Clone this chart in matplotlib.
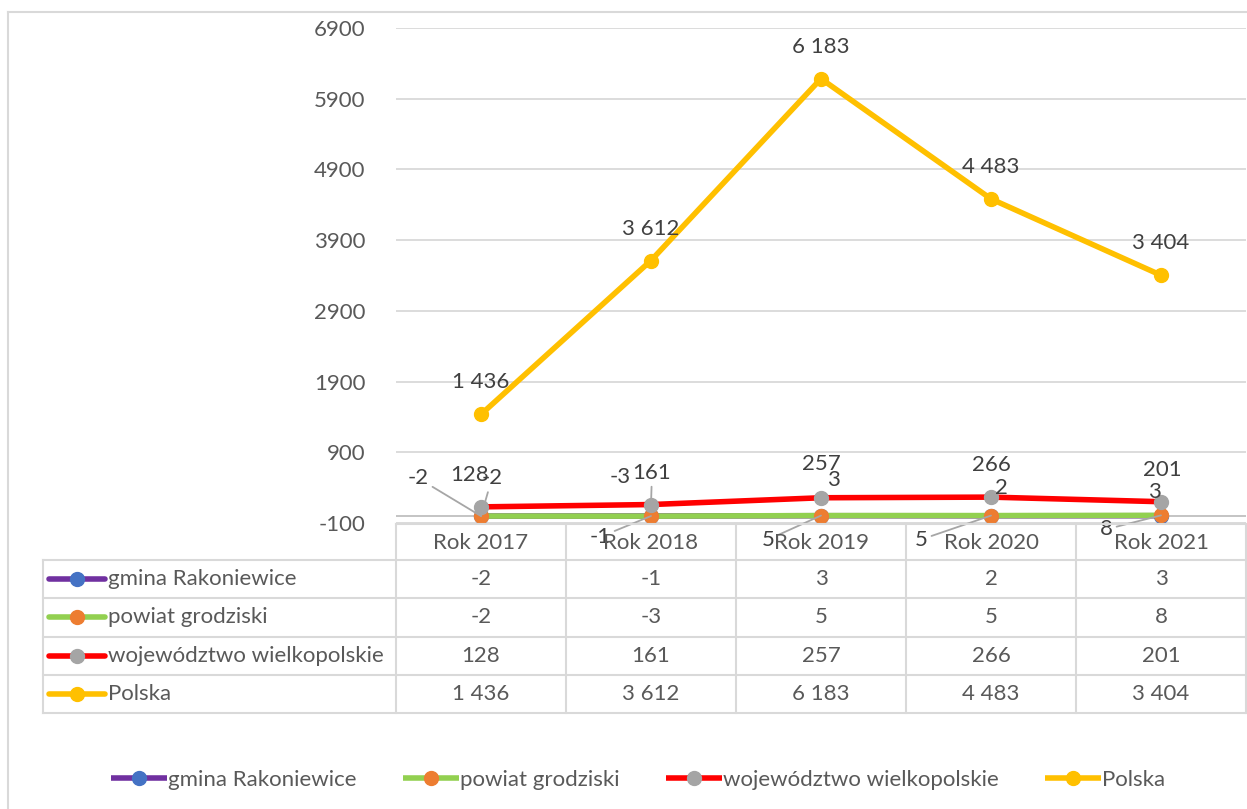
import numpy as np
import matplotlib.pyplot as plt
from matplotlib.lines import Line2D

plt.rcParams['font.family'] = ['Lato', 'DejaVu Sans']

# Dane
kategorie = ['Rok 2017', 'Rok 2018', 'Rok 2019', 'Rok 2020', 'Rok 2021']
nazwy = ['gmina Rakoniewice', 'powiat grodziski', 'województwo wielkopolskie', 'Polska']
gmina = [-2, -1, 3, 2, 3]
powiat = [-2, -3, 5, 5, 8]
wojewodztwo = [128, 161, 257, 266, 201]
polska = [1436, 3612, 6183, 4483, 3404]
y_ticks = [-100, 900, 1900, 2900, 3900, 4900, 5900, 6900]

# [kolor linii, kolor znacznika]
KOLORY = [['#7030A0', '#4472C4'], ['#92D050', '#ED7D31'],
          ['#FF0000', '#A5A5A5'], ['#FFC000', '#FFC000']]

# Przesuniecia etykiet (px) i czy rysowac linie odniesienia
ETYKIETY = [
    [(11, 38, True), (-51, -21, True), (12, 36, False), (10, 28, False), (-7, 24, False)],
    [(-63, 38, True), (-31, 39, False), (-53, -24, True), (-70, -24, True), (-55, -14, True)],
    [(-11, 32, False), (1, 32, True), (0, 34, False), (0, 32, False), (1, 32, False)],
    [(0, 32, False)] * 5,
]

W, H = 1247, 809
TEKST = '#595959'
SIATKA = '#d9d9d9'
FS = 16


def fmt(v):
    return '{:,}'.format(v).replace(',', ' ')


fig = plt.figure(figsize=(W / 100, H / 100), dpi=100)
fig.patch.set_facecolor('white')

# Wykres glowny
ax = fig.add_axes([396 / W, 1 - 523 / H, 850 / W, 495 / H])
x = np.arange(len(kategorie))
ax.set_xlim(-0.5, len(kategorie) - 0.5)
ax.set_ylim(-100, 6900)

serie = [gmina, powiat, wojewodztwo, polska]
linie = []
for i, (wartosci, nazwa) in enumerate(zip(serie, nazwy)):
    l, = ax.plot(x, wartosci, color=KOLORY[i][0], lw=4, marker='o', ms=10,
                 mfc=KOLORY[i][1], mec=KOLORY[i][1], label=nazwa,
                 zorder=3 + i, clip_on=False, solid_capstyle='butt')
    linie.append(l)
    for j, v in enumerate(wartosci):
        dx, dy, lider = ETYKIETY[i][j]
        props = None
        if lider:
            props = dict(arrowstyle='-', color='#a6a6a6', lw=1.3, shrinkA=1, shrinkB=0)
        ax.annotate(fmt(v), xy=(x[j], v), xytext=(dx, dy), textcoords='offset pixels',
                    ha='center', va='center', fontsize=FS, color='#404040',
                    arrowprops=props, zorder=10, annotation_clip=False)

ax.set_yticks(y_ticks)
ax.set_yticklabels([str(t) for t in y_ticks])
ax.set_xticks([])
ax.yaxis.grid(True, color=SIATKA, lw=1.3)
ax.set_axisbelow(True)
ax.axhline(0, color='#bfbfbf', lw=1.3, zorder=1)
ax.tick_params(axis='y', length=0, pad=22, labelsize=FS, labelcolor=TEKST)
for s in ax.spines.values():
    s.set_visible(False)

# Warstwa w pikselach: ramka i tabela danych
ov = fig.add_axes([0, 0, 1, 1])
ov.set_xlim(0, W)
ov.set_ylim(H, 0)
ov.axis('off')

# Ramka wykresu
ov.plot([8, 8], [12, H], color=SIATKA, lw=1.5)
ov.plot([8, W], [12, 12], color=SIATKA, lw=1.5)

# Tabela
kol_x = [396, 566, 736, 906, 1076, 1246]
wiersze_y = [524, 560, 598, 636.5, 675, 713]
ov.plot([396, 1246], [wiersze_y[0]] * 2, color=SIATKA, lw=1.5)
for yy in wiersze_y[1:]:
    ov.plot([43, 1246], [yy, yy], color=SIATKA, lw=1.5)
ov.plot([43, 43], [wiersze_y[1], wiersze_y[-1]], color=SIATKA, lw=1.5)
for xx in kol_x:
    ov.plot([xx, xx], [wiersze_y[0], wiersze_y[-1]], color=SIATKA, lw=1.5)

for j, kat in enumerate(kategorie):
    xc = (kol_x[j] + kol_x[j + 1]) / 2
    ov.text(xc, 543, kat, ha='center', va='center', fontsize=FS, color=TEKST)

for i, (wartosci, nazwa) in enumerate(zip(serie, nazwy)):
    yc = (wiersze_y[i + 1] + wiersze_y[i + 2]) / 2
    ov.plot([49, 105], [yc, yc], color=KOLORY[i][0], lw=4, solid_capstyle='round')
    ov.plot([77], [yc], marker='o', ms=10, color=KOLORY[i][1])
    ov.text(108, yc, nazwa, ha='left', va='center', fontsize=FS, color=TEKST)
    for j, v in enumerate(wartosci):
        xc = (kol_x[j] + kol_x[j + 1]) / 2
        ov.text(xc, yc, fmt(v), ha='center', va='center', fontsize=FS, color=TEKST)

# Legenda
fig.legend(linie, nazwy, loc='center', bbox_to_anchor=(638 / W, 1 - 780 / H), ncol=4,
           frameon=False, handlelength=2.5, handletextpad=0.05, columnspacing=2.1,
           fontsize=FS, labelcolor=TEKST)

fig.savefig('out.png', dpi=100)
